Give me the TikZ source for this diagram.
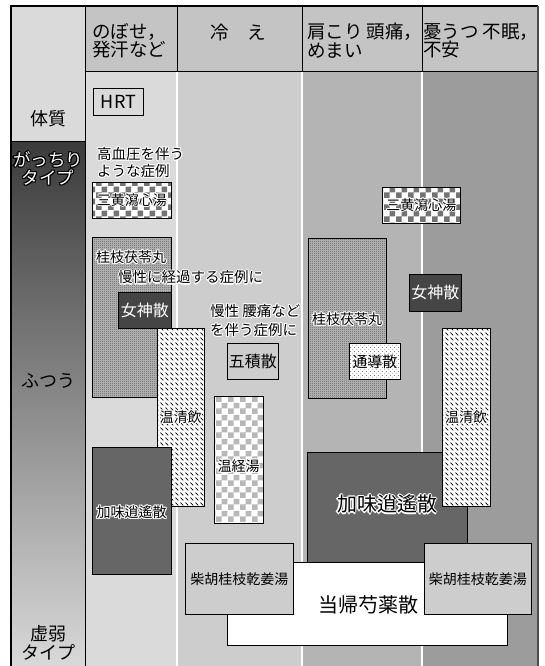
\documentclass[tikz,border=0pt]{standalone}
\usepackage{fontspec}
\setmainfont{Noto Sans CJK JP}
\usepackage[copies]{contour}
\contourlength{1.1pt}
\contournumber{8}
\usetikzlibrary{patterns.meta}

\definecolor{cellA}{HTML}{DADADA}
\definecolor{cellB}{HTML}{CDCDCD}
\definecolor{cellC}{HTML}{B4B4B4}
\definecolor{cellD}{HTML}{9C9C9C}
\definecolor{headcol}{HTML}{C4C4C4}
\definecolor{darkbox}{HTML}{454545}
\definecolor{midbox}{HTML}{666666}

\pgfdeclarepattern{
  name=bigcheck, type=uncolored,
  bottom left={\pgfpoint{0pt}{0pt}}, top right={\pgfpoint{12pt}{12pt}},
  tile size={\pgfpoint{12pt}{12pt}},
  code={
    \pgfpathrectangle{\pgfpoint{0pt}{0pt}}{\pgfpoint{6pt}{6pt}}
    \pgfpathrectangle{\pgfpoint{6pt}{6pt}}{\pgfpoint{6pt}{6pt}}
    \pgfusepath{fill}
  }
}
\pgfdeclarepattern{
  name=finecheck, type=uncolored,
  bottom left={\pgfpoint{0pt}{0pt}}, top right={\pgfpoint{2pt}{2pt}},
  tile size={\pgfpoint{2pt}{2pt}},
  code={
    \pgfpathrectangle{\pgfpoint{0pt}{0pt}}{\pgfpoint{1pt}{1pt}}
    \pgfpathrectangle{\pgfpoint{1pt}{1pt}}{\pgfpoint{1pt}{1pt}}
    \pgfusepath{fill}
  }
}
\pgfdeclarepattern{
  name=dashgrid, type=uncolored,
  bottom left={\pgfpoint{0pt}{0pt}}, top right={\pgfpoint{5pt}{5pt}},
  tile size={\pgfpoint{5pt}{5pt}},
  code={
    \pgfsetlinewidth{1pt}
    \pgfpathmoveto{\pgfpoint{0.6pt}{4pt}}
    \pgfpathlineto{\pgfpoint{3.8pt}{0.8pt}}
    \pgfusepath{stroke}
  }
}
\pgfdeclarepattern{
  name=sparsedots, type=uncolored,
  bottom left={\pgfpoint{0pt}{0pt}}, top right={\pgfpoint{4pt}{4pt}},
  tile size={\pgfpoint{4pt}{4pt}},
  code={
    \pgfpathcircle{\pgfpoint{1pt}{1pt}}{0.6pt}
    \pgfpathcircle{\pgfpoint{3pt}{3pt}}{0.6pt}
    \pgfusepath{fill}
  }
}

\newcommand{\halo}[1]{\contour{white}{#1}}
\newcommand{\darkhalo}[1]{\textcolor{white}{\contour{black}{#1}}}

\begin{document}
\begin{tikzpicture}[x=1pt,y=-1pt,
  box/.style={draw=black,line width=0.9pt,inner sep=0pt,anchor=north west},
  checkbox/.style={preaction={fill=white},pattern=bigcheck,pattern color=black!55},
  lightcheck/.style={preaction={fill=white},pattern=bigcheck,pattern color=black!28},
  finebox/.style={preaction={fill=black!28},pattern=finecheck,pattern color=black!62},
  dashbox/.style={preaction={fill=white},pattern=dashgrid,pattern color=black},
  dotbox/.style={preaction={fill=white},pattern=sparsedots,pattern color=black!60},
  txt/.style={inner sep=0pt,font=\fontsize{14}{17}\selectfont},
  bigtxt/.style={inner sep=0pt,font=\fontsize{20}{22}\selectfont},
  head/.style={inner sep=0pt,anchor=north west,align=left,font=\fontsize{18.5}{18.5}\selectfont},
  side/.style={inner sep=0pt,align=center,font=\fontsize{18}{19.5}\selectfont}]
  \useasboundingbox (0,0) rectangle (544,666);

  %Background
  \fill[cellA] (11,6) rectangle (85,141);
  \fill[headcol] (85,6) rectangle (538,71);
  \fill[cellA] (85,71) rectangle (177,666);
  \fill[cellB] (177,71) rectangle (302,666);
  \fill[cellC] (302,71) rectangle (422,666);
  \fill[cellD] (422,71) rectangle (538,666);
  \shade[top color=black!77,bottom color=black!15] (11,141) rectangle (85,666);
  \foreach \x in {177,302,422}
    \draw[white,line width=1.3pt] (\x,71) -- (\x,666);
  \foreach \x in {177,302,422}
    \draw[line width=0.9pt] (\x,6) -- (\x,71);
  \draw[line width=0.9pt] (85,6) -- (85,666);
  \draw[line width=0.9pt] (11,141) -- (85,141);
  \draw[line width=0.9pt] (85,71) -- (538,71);
  \draw[line width=1.1pt] (11,666) -- (11,6) -- (538,6);
  \draw[black!70,line width=1.4pt] (538,6) -- (538,666);

  %Header
  \node[head] (hot) at (92,23) {のぼせ，\\発汗など};
  \node[head,anchor=center] (cold) at (238,33) {冷　え};
  \node[head] (stiff) at (307,23) {肩こり 頭痛，\\めまい};
  \node[head] (mood) at (423,23) {憂うつ 不眠，\\不安};

  %Left column
  \node[side] (taishitsu) at (48,119) {体質};
  \node[side,font=\fontsize{17.5}{18}\selectfont] (sturdy) at (48,169) {\darkhalo{がっちり}\\\darkhalo{タイプ}};
  \node[side] (normal) at (48,381) {ふつう};
  \node[side] (weak) at (48,643) {虚弱\\タイプ};

  %Boxes
  \node[box,minimum width=50pt,minimum height=27pt,fill=cellA,font=\fontsize{18}{20}\selectfont] (hrt) at (93,88) {HRT};
  \node[txt,anchor=north west,align=left,font=\fontsize{14.5}{17}\selectfont] (hyper) at (97,147) {\halo{高血圧を伴う}\\\halo{ような症例}};
  \node[box,checkbox,txt,minimum width=79pt,minimum height=36pt] (sanL) at (92,182) {\halo{三黄瀉心湯}};
  \node[box,checkbox,txt,minimum width=78pt,minimum height=36pt] (sanR) at (382,187) {\halo{三黄瀉心湯}};

  \node[box,finebox,minimum width=79pt,minimum height=160pt] (keiL) at (92,237) {};
  \node[txt] (keiLt) at (131,258) {\halo{桂枝茯苓丸}};
  \node[box,finebox,minimum width=78pt,minimum height=160pt] (keiR) at (308,238) {};
  \node[txt] (keiRt) at (347,320) {\halo{桂枝茯苓丸}};

  \node[txt,anchor=west,font=\fontsize{14.5}{17}\selectfont] (chronic) at (118,278) {\halo{慢性に経過する症例に}};
  \node[box,fill=darkbox,text=white,minimum width=53pt,minimum height=36pt,font=\fontsize{16}{18}\selectfont] (nyoL) at (118,292) {女神散};

  \node[box,dashbox,minimum width=47pt,minimum height=178pt] (unseiL) at (157,328) {};
  \node[txt] (unseiLt) at (180.5,418) {\halo{温清飲}};

  \node[box,fill=midbox,minimum width=79pt,minimum height=127pt] (katoL) at (92,447) {};
  \node[txt] (katoLt) at (131.5,513) {\halo{加味逍遙散}};

  \node[txt,anchor=north west,align=left,font=\fontsize{14.5}{19}\selectfont] (lumbago) at (210,304) {\halo{慢性 腰痛など}\\\halo{を伴う症例に}};
  \node[box,fill=cellB,minimum width=51pt,minimum height=36pt,font=\fontsize{16}{18}\selectfont] (goshaku) at (227,343) {五積散};
  \node[box,lightcheck,minimum width=49pt,minimum height=127pt] (unkei) at (214,396) {};
  \node[txt] (unkeit) at (238.5,467) {\halo{温経湯}};

  \node[box,dotbox,minimum width=51pt,minimum height=36pt,font=\fontsize{15}{17}\selectfont] (tsudo) at (349,343) {通導散};
  \node[box,fill=darkbox,text=white,minimum width=52pt,minimum height=37pt,font=\fontsize{16}{18}\selectfont] (nyoR) at (409,274) {女神散};

  \node[box,fill=midbox,minimum width=160pt,minimum height=120pt] (katoR) at (307,452) {};
  \node[bigtxt] (katoRt) at (387,505) {\contourlength{1.4pt}\halo{加味逍遙散}};

  \node[box,dashbox,minimum width=48pt,minimum height=178pt] (unseiR) at (442,328) {};
  \node[txt] (unseiRt) at (466,418) {\halo{温清飲}};

  \node[box,fill=white,minimum width=280pt,minimum height=83pt] (toki) at (227,562) {};
  \node[bigtxt] (tokit) at (368,605) {当帰芍薬散};

  \node[box,fill=cellB,txt,minimum width=108pt,minimum height=71pt] (saikoL) at (185,543) {柴胡桂枝乾姜湯};
  \node[box,fill=cellB,txt,minimum width=107pt,minimum height=71pt] (saikoR) at (424,543) {柴胡桂枝乾姜湯};
\end{tikzpicture}
\end{document}
